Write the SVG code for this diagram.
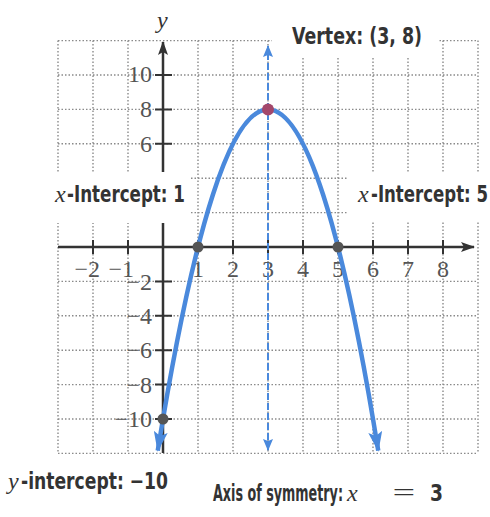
<svg xmlns="http://www.w3.org/2000/svg" width="490" height="517" viewBox="0 0 490 517">
<style>
.grid{fill:none;stroke:#8a8a8a;stroke-width:1.4;stroke-dasharray:1.5 2}
.axis{fill:none;stroke:#333;stroke-width:2.5}
.tick{fill:none;stroke:#333;stroke-width:2}
.num{font-family:"Liberation Serif","Times New Roman",serif;font-size:24px;fill:#555}
.lb{font-family:"DejaVu Sans Condensed","DejaVu Sans",sans-serif;font-weight:bold;font-stretch:condensed;font-size:23px;fill:#333}
.it{font-family:"Liberation Serif","Times New Roman",serif;font-style:italic;font-size:24px;fill:#333}
.blank{fill:#fff}
</style>
<defs>
<marker id="ahAxis" markerUnits="userSpaceOnUse" markerWidth="14" markerHeight="10" refX="13" refY="5" orient="auto-start-reverse"><path d="M0,0 L14,5 L0,10 L3,5 z" fill="#333"/></marker>
<marker id="ahSym" markerUnits="userSpaceOnUse" markerWidth="12" markerHeight="10" refX="11" refY="5" orient="auto-start-reverse"><path d="M0,0 L12,5 L0,10 L2,5 z" fill="#4a89dc"/></marker>
<marker id="ahCurve" markerUnits="userSpaceOnUse" markerWidth="20" markerHeight="14" refX="19" refY="7" orient="auto-start-reverse"><path d="M0,0 L20,7 L0,14 L4,7 z" fill="#4a89dc"/></marker>
</defs>
<rect width="490" height="517" fill="#fff"/>
<g id="grid">
<path class="grid" d="M58,40.6V453.4M93,40.6V453.4M128,40.6V453.4M198,40.6V453.4M233,40.6V453.4M268,40.6V453.4M303,40.6V453.4M338,40.6V453.4M373,40.6V453.4M408,40.6V453.4M443,40.6V453.4M478,40.6V453.4M58,40.6H478M58,75H478M58,109.4H478M58,143.8H478M58,178.2H478M58,212.6H478M58,281.4H478M58,315.8H478M58,350.2H478M58,384.6H478M58,419H478M58,453.4H478"/>
</g>
<g id="axes">
<line class="axis" x1="163" y1="453" x2="163" y2="42" marker-end="url(#ahAxis)"/>
<line class="axis" x1="58" y1="247" x2="474" y2="247" marker-end="url(#ahAxis)"/>
<path class="tick" d="M93,240V254M128,240V254M198,240V254M233,240V254M268,240V254M303,240V254M338,240V254M373,240V254M408,240V254M443,240V254M155,75H172M155,109.4H172M155,143.8H172M155,178.2H172M155,212.6H172M155,281.4H172M155,315.8H172M155,350.2H172M155,384.6H172M155,419H172"/>
</g>
<g id="label-backgrounds">
<rect class="blank" x="48" y="172" width="142" height="51"/>
<rect class="blank" x="347" y="172" width="143" height="50"/>
<rect class="blank" x="272" y="20" width="166" height="38"/>
</g>
<g id="tick-labels">
<text class="it" x="157" y="28" font-size="22" fill="#444">y</text>
<text class="num" x="100" y="277" text-anchor="end">−2</text>
<text class="num" x="134" y="277" text-anchor="end">−1</text>
<text class="num" x="198" y="277" text-anchor="middle">1</text>
<text class="num" x="233" y="277" text-anchor="middle">2</text>
<text class="num" x="268" y="277" text-anchor="middle">3</text>
<text class="num" x="303" y="277" text-anchor="middle">4</text>
<text class="num" x="338" y="277" text-anchor="middle">5</text>
<text class="num" x="373" y="277" text-anchor="middle">6</text>
<text class="num" x="408" y="277" text-anchor="middle">7</text>
<text class="num" x="443" y="277" text-anchor="middle">8</text>
<text class="num" x="152" y="82" text-anchor="end">10</text>
<text class="num" x="152" y="117" text-anchor="end">8</text>
<text class="num" x="152" y="152" text-anchor="end">6</text>
<text class="num" x="152" y="290" text-anchor="end">−2</text>
<text class="num" x="152" y="324" text-anchor="end">−4</text>
<text class="num" x="152" y="358" text-anchor="end">−6</text>
<text class="num" x="152" y="393" text-anchor="end">−8</text>
<text class="num" x="152" y="427" text-anchor="end">−10</text>
</g>
<g id="connectors">
<line x1="268" y1="450" x2="268" y2="46" stroke="#4a89dc" stroke-width="2" stroke-dasharray="7 3" marker-start="url(#ahSym)" marker-end="url(#ahSym)"/>
<path d="M157.75,450.7 Q268,-231.9 378.25,450.7" fill="none" stroke="#4a89dc" stroke-width="4.5" marker-start="url(#ahCurve)" marker-end="url(#ahCurve)"/>
</g>
<g id="vertex"><circle cx="268" cy="109.4" r="6" fill="#a3476b"/></g>
<g id="x-intercept-1"><circle cx="198" cy="247" r="5.5" fill="#555"/></g>
<g id="x-intercept-5"><circle cx="338" cy="247" r="5.5" fill="#555"/></g>
<g id="y-intercept"><circle cx="163" cy="419" r="5.5" fill="#555"/></g>
<g id="label-vertex"><text class="lb" x="292" y="44" textLength="130" lengthAdjust="spacingAndGlyphs">Vertex: (3, 8)</text></g>
<g id="label-x-intercept-1"><text class="it" x="55" y="202">x</text><text class="lb" x="67" y="202" textLength="118" lengthAdjust="spacingAndGlyphs">-Intercept: 1</text></g>
<g id="label-x-intercept-5"><text class="it" x="358" y="202">x</text><text class="lb" x="371" y="202" textLength="117" lengthAdjust="spacingAndGlyphs">-Intercept: 5</text></g>
<g id="label-y-intercept"><text class="it" x="8" y="489">y</text><text class="lb" x="21" y="489" textLength="147" lengthAdjust="spacingAndGlyphs">-intercept: −10</text></g>
<g id="label-axis"><text class="lb" x="213" y="501" textLength="130" lengthAdjust="spacingAndGlyphs">Axis of symmetry:</text><text class="it" x="347" y="501">x</text><text class="it" x="390" y="500" font-style="normal" textLength="27" lengthAdjust="spacingAndGlyphs">=</text><text class="lb" x="430" y="501" textLength="13" lengthAdjust="spacingAndGlyphs">3</text></g>
</svg>
